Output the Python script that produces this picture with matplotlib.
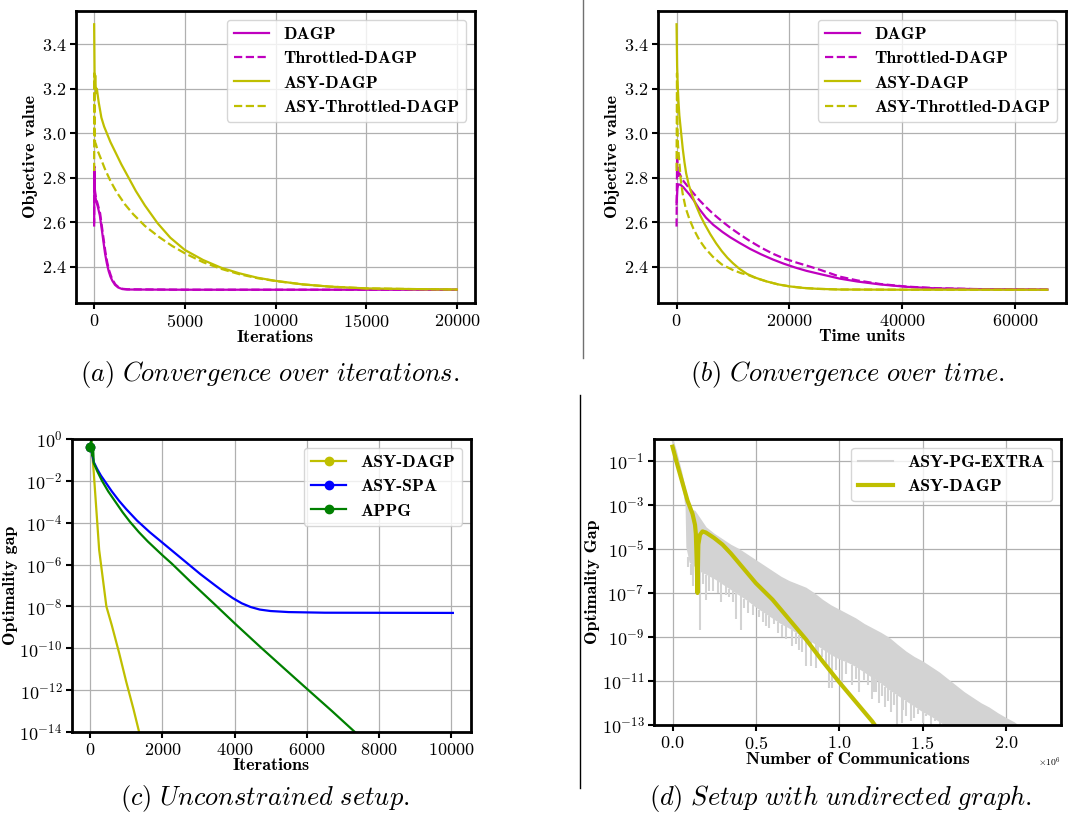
import numpy as np
import matplotlib.pyplot as plt
from matplotlib.lines import Line2D
from matplotlib.ticker import FixedLocator, NullLocator

plt.rcParams['font.family'] = 'serif'
plt.rcParams['font.serif'] = ['cmr10']
plt.rcParams['mathtext.fontset'] = 'cm'
plt.rcParams['axes.formatter.use_mathtext'] = True
plt.rcParams['axes.unicode_minus'] = False

# ---- (a) objective value vs iterations ----
it_dagp = [0, 15, 30, 60, 100, 200, 315, 400, 500, 600, 700, 800, 900, 1000, 1150, 1325,
           1550, 1800, 5000, 20000]
obj_dagp = [2.60, 2.82, 2.75, 2.72, 2.70, 2.67, 2.63, 2.58, 2.52, 2.46, 2.415, 2.38, 2.355,
            2.337, 2.318, 2.306, 2.299, 2.297, 2.296, 2.296]
it_thr = [0, 15, 30, 60, 100, 200, 330, 420, 520, 620, 720, 820, 920, 1020, 1170, 1350,
          1580, 1850, 5000, 20000]
obj_thr = [2.58, 2.85, 2.76, 2.73, 2.71, 2.68, 2.64, 2.585, 2.525, 2.467, 2.42, 2.385, 2.36,
           2.34, 2.32, 2.307, 2.3, 2.298, 2.296, 2.296]
it_asy = [0, 30, 60, 100, 150, 250, 400, 550, 700, 900, 1200, 1500, 1900, 2300, 2800, 3500,
          4200, 5000, 6000, 7000, 8000, 9000, 10000, 11500, 13000, 15000, 17500, 20000]
obj_asy = [3.49, 3.20, 3.26, 3.18, 3.20, 3.14, 3.07, 3.03, 3.00, 2.96, 2.91, 2.86, 2.80,
           2.74, 2.675, 2.595, 2.53, 2.475, 2.43, 2.395, 2.37, 2.35, 2.336, 2.32, 2.31,
           2.302, 2.299, 2.297]
it_asy_thr = [0, 10, 25, 50, 100, 200, 350, 590, 900, 1240, 1700, 2150, 2800, 3600, 4300,
              5000, 6000, 7000, 8000, 9000, 10000, 11500, 13000, 15000, 17500, 20000]
obj_asy_thr = [2.83, 3.27, 3.05, 2.96, 2.95, 2.92, 2.89, 2.84, 2.785, 2.735, 2.68, 2.636,
               2.583, 2.532, 2.493, 2.46, 2.42, 2.39, 2.366, 2.348, 2.335, 2.32, 2.31, 2.302,
               2.299, 2.297]

# ---- (b) objective value vs time units ----
t_dagp = [0, 150, 300, 700, 1200, 2260, 3000, 4000, 5220, 6500, 8180, 9500, 11140, 13000,
          15000, 17060, 19000, 21000, 23000, 25500, 28900, 32000, 36000, 40760, 46000,
          52600, 65700]
tobj_dagp = [2.68, 2.75, 2.77, 2.768, 2.757, 2.725, 2.70, 2.66, 2.62, 2.588, 2.555, 2.532,
             2.507, 2.48, 2.455, 2.432, 2.413, 2.396, 2.381, 2.366, 2.346, 2.333, 2.32,
             2.309, 2.302, 2.299, 2.297]
t_thr = [0, 100, 250, 500, 1070, 2000, 3000, 4000, 5220, 6500, 8000, 9500, 11140, 13000,
         15000, 17060, 19000, 21000, 23000, 25500, 28900, 32000, 36000, 40760, 46000, 52600,
         65700]
tobj_thr = [2.58, 2.90, 2.80, 2.82, 2.79, 2.76, 2.73, 2.70, 2.668, 2.637, 2.605, 2.575,
            2.546, 2.515, 2.485, 2.458, 2.437, 2.42, 2.405, 2.385, 2.355, 2.338, 2.322, 2.31,
            2.303, 2.299, 2.297]
t_asy = [0, 100, 200, 350, 500, 780, 1100, 1400, 1700, 2200, 2844, 3450, 4200, 5000, 6000,
         7000, 8000, 9000, 10000, 11140, 12500, 14100, 16000, 18000, 20020, 22500, 25000,
         28900, 40000, 65700]
tobj_asy = [3.49, 3.30, 3.22, 3.14, 3.08, 3.01, 2.93, 2.87, 2.82, 2.765, 2.715, 2.675, 2.63,
            2.59, 2.545, 2.505, 2.47, 2.44, 2.415, 2.39, 2.367, 2.349, 2.333, 2.32, 2.311,
            2.304, 2.30, 2.297, 2.296, 2.296]
t_asy_thr = [0, 80, 150, 250, 480, 750, 1070, 1600, 2260, 3000, 4030, 5000, 6400, 8000,
             9950, 11500, 12500, 14100, 16000, 18000, 20020, 22500, 25000, 28900, 40000,
             65700]
tobj_asy_thr = [2.83, 3.27, 3.05, 2.95, 2.875, 2.79, 2.73, 2.665, 2.615, 2.57, 2.52, 2.485,
                2.445, 2.41, 2.385, 2.37, 2.364, 2.348, 2.333, 2.32, 2.311, 2.304, 2.30,
                2.297, 2.296, 2.296]

# ---- (c) optimality gap, unconstrained setup (log10 values) ----
it_c_dagp = [0, 30, 100, 250, 450, 600, 800, 1000, 1200, 1400]
gap_c_dagp = [-0.37, -0.1, -1.6, -5.3, -8.0, -8.9, -10.2, -11.6, -12.9, -14.3]
it_c_spa = [0, 40, 100, 200, 300, 400, 600, 800, 1000, 1300, 1650, 2000, 2350, 2700, 3050,
            3430, 3700, 3950, 4200, 4450, 4700, 5000, 5500, 6500, 10050]
gap_c_spa = [-0.37, -0.6, -1.1, -1.45, -1.75, -2.0, -2.5, -2.95, -3.35, -3.9, -4.45, -4.95,
             -5.45, -5.95, -6.45, -6.95, -7.3, -7.6, -7.85, -8.03, -8.15, -8.22, -8.27, -8.3,
             -8.31]
it_c_appg = [0, 30, 60, 80, 100, 200, 330, 500, 700, 900, 1100, 1350, 1600, 2000, 2260, 2800,
             3420, 4000, 4723, 5400, 6015, 6700, 7334, 7600]
gap_c_appg = [-0.37, -0.05, -0.8, -0.3, -1.15, -1.55, -2.0, -2.5, -3.0, -3.5, -3.95, -4.45,
              -4.9, -5.55, -5.95, -6.85, -7.85, -8.8, -9.95, -11.0, -11.95, -13.0, -14.0,
              -14.4]

# ---- (d) optimality gap vs communications (x in 1e6, log10 values) ----
comm_dagp = [0.0, 0.03, 0.06, 0.09, 0.12, 0.135, 0.14, 0.145, 0.15, 0.155, 0.165, 0.18,
             0.20, 0.25, 0.30, 0.35, 0.40, 0.50, 0.60, 0.70, 0.80, 0.90, 1.00, 1.10,
             1.20, 1.25]
gap_d_dagp = [-0.35, -1.2, -2.0, -2.8, -3.4, -3.9, -4.3, -5.5, -7.0, -4.8, -4.35, -4.2,
              -4.25, -4.5, -4.8, -5.2, -5.65, -6.55, -7.3, -8.2, -9.1, -10.1, -11.05,
              -11.95, -12.85, -13.4]
comm_extra = [0.0, 0.02, 0.05, 0.075, 0.08, 0.1, 0.133, 0.16, 0.2, 0.25, 0.3, 0.35, 0.4,
              0.45, 0.5, 0.55, 0.6, 0.65, 0.7, 0.75, 0.8, 0.85, 0.9, 0.95, 1.0, 1.05, 1.1,
              1.15, 1.2, 1.25, 1.3, 1.35, 1.4, 1.45, 1.5, 1.55, 1.6, 1.65, 1.7, 1.75, 1.8,
              1.85, 1.9, 1.95, 2.0, 2.05, 2.1, 2.22]
gap_extra_hi = [-0.05, -0.55, -1.45, -2.3, -2.9, -3.25, -3.3, -3.6, -4.05, -4.35, -4.6,
                -4.85, -5.05, -5.3, -5.55, -5.8, -6.05, -6.3, -6.5, -6.65, -6.8, -7.05,
                -7.35, -7.6, -7.8, -8.0, -8.2, -8.45, -8.65, -8.85, -9.08, -9.4, -9.7,
                -9.95, -10.15, -10.4, -10.65, -10.95, -11.25, -11.55, -11.8, -12.05, -12.25,
                -12.5, -12.72, -12.92, -13.2, -14.0]
gap_extra_lo = [-0.5, -1.0, -2.0, -2.9, -4.9, -5.6, -5.8, -6.0, -6.15, -6.35, -6.6, -6.85,
                -7.1, -7.35, -7.65, -7.9, -8.15, -8.4, -8.6, -8.85, -9.05, -9.3, -9.55,
                -9.8, -10.0, -10.15, -10.35, -10.6, -10.85, -11.1, -11.4, -11.65, -11.9,
                -12.15, -12.4, -12.6, -12.85, -13.1, -13.4, -13.6, -13.9, -14.1, -14.3,
                -14.5, -14.7, -14.9, -15.2, -16.0]
spike_x = [0.093, 0.11, 0.123, 0.14, 0.165, 0.185, 0.203, 0.22, 0.242, 0.27, 0.292, 0.32,
           0.341, 0.36, 0.381, 0.411, 0.43, 0.451, 0.48, 0.52, 0.54, 0.56, 0.58, 0.61, 0.63,
           0.659, 0.68, 0.719, 0.74, 0.76, 0.778, 0.8, 0.828, 0.858, 0.87, 0.898, 0.92,
           0.937, 0.957, 0.98, 1.017, 1.04, 1.076, 1.1, 1.116, 1.146, 1.17, 1.195, 1.206,
           1.22, 1.24, 1.255, 1.275, 1.29, 1.31, 1.33, 1.345, 1.374, 1.38, 1.4, 1.43, 1.45,
           1.474, 1.5, 1.52, 1.55, 1.573, 1.603]
spike_lo = [-5.8, -6.2, -6.7, -6.5, -8.7, -6.6, -7.3, -6.9, -6.9, -7.0, -7.4, -7.1, -7.2,
            -7.4, -8.2, -8.7, -7.7, -7.9, -8.0, -8.1, -8.3, -8.5, -8.6, -8.4, -8.8, -9.0,
            -9.1, -9.4, -9.3, -9.6, -9.7, -10.3, -10.3, -10.4, -9.9, -9.9, -10.2, -11.3,
            -11.3, -10.5, -11.26, -10.7, -11.2, -10.9, -11.5, -10.95, -11.2, -11.8, -11.5,
            -11.5, -12.0, -11.7, -12.2, -11.9, -12.4, -12.1, -13.0, -12.9, -12.3, -12.6,
            -12.8, -12.7, -12.5, -12.9, -12.6, -13.0, -12.8, -13.0]

W, H = 1070, 816
fig = plt.figure(figsize=(W / 100, H / 100), dpi=100)


def box(l, r, t, b):
    return [l / W, 1 - b / H, (r - l) / W, (b - t) / H]


bold = 'cmb10'
LAB = 13
leg_kw = dict(prop={'family': bold, 'size': 12.7}, loc='upper right')


def style(ax):
    for s in ax.spines.values():
        s.set_linewidth(2)
    ax.tick_params(labelsize=13, length=4, width=1.5, pad=3)
    ax.grid(True, color='#b0b0b0', linewidth=0.9)
    ax.set_axisbelow(True)


M, Y = 'm', 'y'

ax = fig.add_axes(box(76, 475, 11, 303))
ax.plot(it_dagp, obj_dagp, color=M, lw=1.6, label='DAGP')
ax.plot(it_thr, obj_thr, color=M, lw=1.6, ls='--', label='Throttled-DAGP')
ax.plot(it_asy, obj_asy, color=Y, lw=1.6, label='ASY-DAGP')
ax.plot(it_asy_thr, obj_asy_thr, color=Y, lw=1.6, ls='--', label='ASY-Throttled-DAGP')
ax.set_xticks([0, 5000, 10000, 15000, 20000])
ax.set_yticks([2.4, 2.6, 2.8, 3.0, 3.2, 3.4])
style(ax)
ax.set_xlabel('Iterations', family=bold, fontsize=LAB, labelpad=0)
ax.set_ylabel('Objective value', family=bold, fontsize=LAB, labelpad=3)
ax.legend(**leg_kw)

ax = fig.add_axes(box(658, 1066, 11, 303))
ax.plot(t_dagp, tobj_dagp, color=M, lw=1.6, label='DAGP')
ax.plot(t_thr, tobj_thr, color=M, lw=1.6, ls='--', label='Throttled-DAGP')
ax.plot(t_asy, tobj_asy, color=Y, lw=1.6, label='ASY-DAGP')
ax.plot(t_asy_thr, tobj_asy_thr, color=Y, lw=1.6, ls='--', label='ASY-Throttled-DAGP')
ax.set_xticks([0, 20000, 40000, 60000])
ax.set_yticks([2.4, 2.6, 2.8, 3.0, 3.2, 3.4])
style(ax)
ax.set_xlabel('Time units', family=bold, fontsize=LAB, labelpad=0)
ax.set_ylabel('Objective value', family=bold, fontsize=LAB, labelpad=3)
ax.legend(**leg_kw)

ax = fig.add_axes(box(72, 471, 439, 732))
ax.plot(it_c_dagp, 10.0 ** np.array(gap_c_dagp), color=Y, lw=1.6, marker='o', ms=6,
        markevery=[0], label='ASY-DAGP')
ax.plot(it_c_spa, 10.0 ** np.array(gap_c_spa), color='b', lw=1.6, marker='o', ms=6,
        markevery=[0], label='ASY-SPA')
ax.plot(it_c_appg, 10.0 ** np.array(gap_c_appg), color='g', lw=1.6, marker='o', ms=6,
        markevery=[0], label='APPG')
ax.set_yscale('log')
ax.set_ylim(1e-14, 1e0)
ax.yaxis.set_major_locator(FixedLocator([10.0 ** k for k in range(-14, 1, 2)]))
ax.yaxis.set_minor_locator(NullLocator())
ax.set_xticks([0, 2000, 4000, 6000, 8000, 10000])
style(ax)
ax.set_xlabel('Iterations', family=bold, fontsize=LAB, labelpad=0)
ax.set_ylabel('Optimality gap', family=bold, fontsize=LAB, labelpad=1)
ax.legend(**leg_kw)

ax = fig.add_axes(box(654, 1061, 439, 725))
cx = np.array(comm_extra) * 1e6
ax.fill_between(cx, 10.0 ** np.array(gap_extra_lo), 10.0 ** np.array(gap_extra_hi),
                color='lightgray', lw=0)
sx = np.array(spike_x) * 1e6
ax.vlines(sx, 10.0 ** np.array(spike_lo),
          10.0 ** np.interp(spike_x, comm_extra, gap_extra_lo), color='lightgray', lw=1.5)
ax.plot(cx, 10.0 ** np.array(gap_extra_hi), color='lightgray', lw=1.5, label='ASY-PG-EXTRA')
ax.plot(np.array(comm_dagp) * 1e6, 10.0 ** np.array(gap_d_dagp), color=Y, lw=3,
        label='ASY-DAGP')
ax.set_yscale('log')
ax.set_ylim(1e-13, 1e0)
ax.yaxis.set_major_locator(FixedLocator([10.0 ** k for k in range(-13, 0, 2)]))
ax.yaxis.set_minor_locator(NullLocator())
ax.set_xticks([0, 0.5e6, 1.0e6, 1.5e6, 2.0e6])
ax.ticklabel_format(axis='x', style='sci', scilimits=(0, 0), useMathText=True)
ax.xaxis.get_offset_text().set_fontsize(7)
style(ax)
ax.set_xlabel('Number of Communications', family=bold, fontsize=LAB, labelpad=0)
ax.set_ylabel('Optimality Gap', family=bold, fontsize=LAB, labelpad=1)
ax.legend(**leg_kw)

# separators between columns
fig.add_artist(Line2D([583 / W, 583 / W], [1, 1 - 358 / H], color='#707070', lw=1))
fig.add_artist(Line2D([580 / W, 580 / W], [1 - 395 / H, 1 - 788 / H], color='black', lw=1))

cap = [(270, 375, r'$\mathit{(a)\ Convergence\ over\ iterations.}$'),
       (847, 375, r'$\mathit{(b)\ Convergence\ over\ time.}$'),
       (265, 799, r'$\mathit{(c)\ Unconstrained\ setup.}$'),
       (840, 799, r'$\mathit{(d)\ Setup\ with\ undirected\ graph.}$')]
for x, y, s in cap:
    fig.text(x / W, 1 - y / H, s, ha='center', va='center', fontsize=19)

fig.savefig('out.png', dpi=100)
